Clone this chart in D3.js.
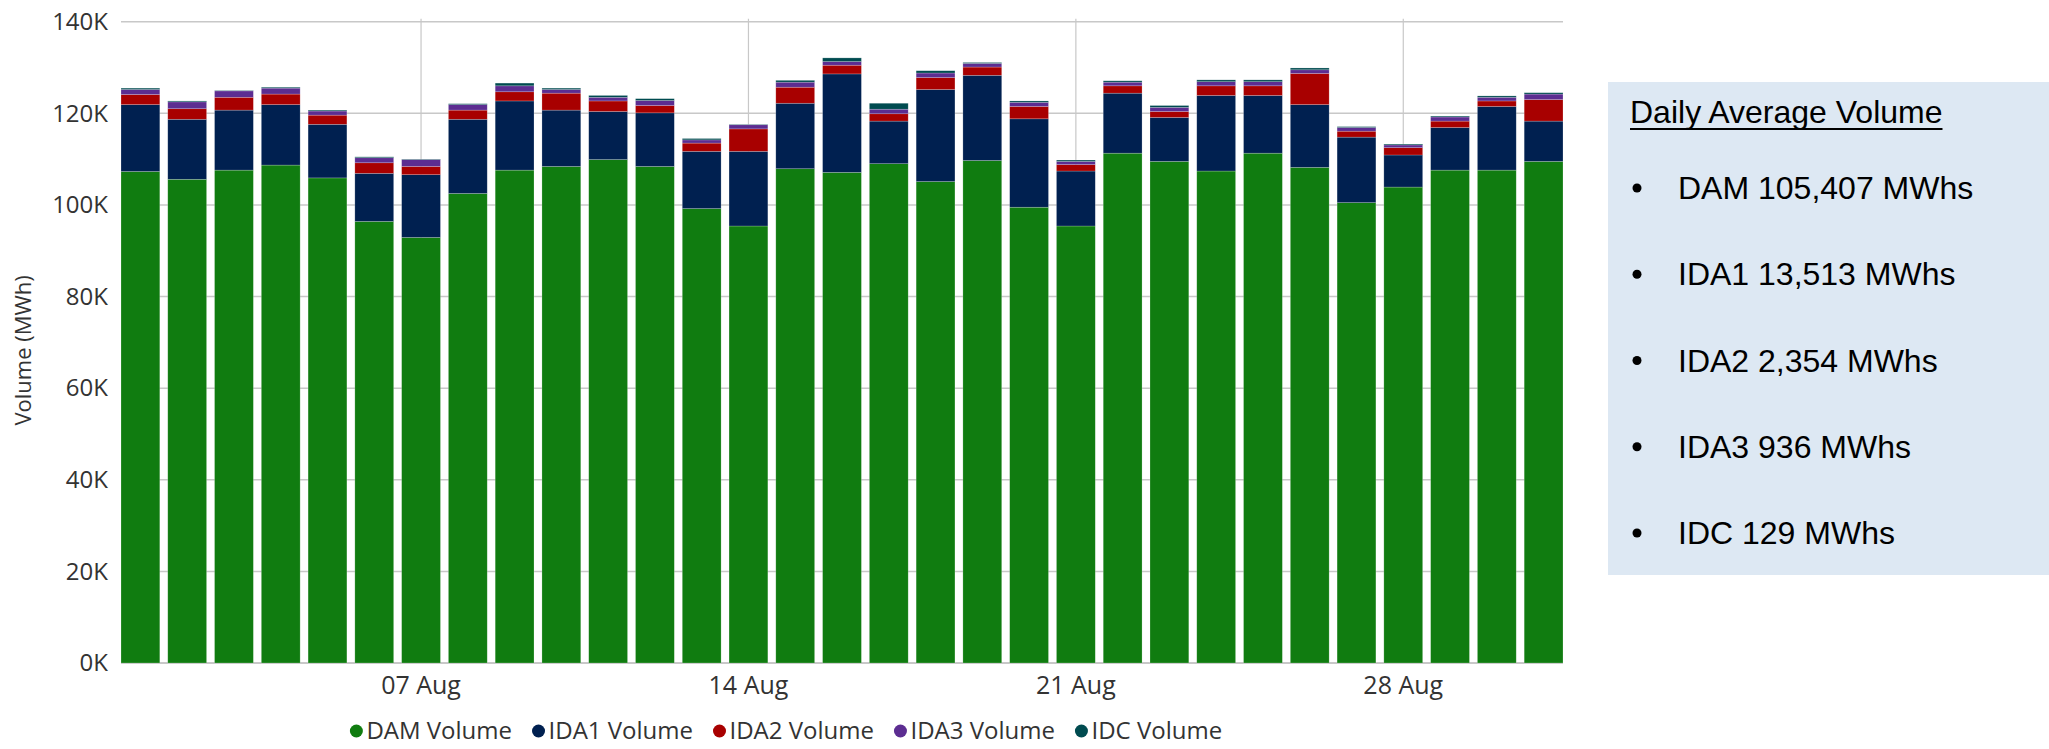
<!DOCTYPE html>
<html>
<head>
<meta charset="utf-8">
<script src="https://cdn.jsdelivr.net/npm/d3@7"></script>
<style>
  html, body { margin: 0; padding: 0; background: #fff; }
  svg { display: block; }
</style>
</head>
<body>
<svg id="chart" width="2049" height="749"></svg>
<script>
/* stacked daily volume chart */
const days = d3.range(1, 32).map(d => new Date(2023, 7, d));
const dam  = [107300,105600,107600,108700,105900, 96400, 92900,102500,107600,108400,
              109900,108400, 99200, 95400,107900,107100,109000,105100,109700, 99500,
               95400,111300,109500,107400,111300,108200,100500,103900,107600,107600,109500];
const ida1 = [ 14600, 13100, 13100, 13200, 11700, 10500, 13700, 16200, 15100, 12300,
               10500, 11700, 12500, 16300, 14300, 21500,  9300, 20100, 18600, 19300,
               12000, 13100,  9600, 16500, 12600, 13700, 14300,  7000,  9300, 13900,  8800];
const ida2 = [  2200,  2300,  2800,  2300,  2000,  2300,  1800,  2000,  2000,  3700,
                2300,  1600,  1800,  4900,  3500,  1900,  1600,  2600,  1800,  2700,
                1400,  1600,  1300,  2100,  2100,  6800,  1300,  1600,  1400,  1200,  4700];
const ida3 = [  1100,  1500,  1400,  1300,   900,  1100,  1500,  1200,  1300,   800,
                 800,  1100,   700,   900,  1100,   800,  1000,  1000,   800,   900,
                 700,   800,   900,   900,   900,   800,   800,   600,   900,   800,  1200];
const idc  = [   300,   200,   100,   200,   200,   200,   100,   200,   600,   300,
                 400,   400,   300,   100,   400,   800,  1300,   500,   200,   300,
                 300,   300,   400,   400,   400,   400,   200,   200,   200,   300,   300];

const seriesNames = ['DAM Volume', 'IDA1 Volume', 'IDA2 Volume', 'IDA3 Volume', 'IDC Volume'];
const seriesColors = ['#107c10', '#002050', '#a80000', '#5c2d91', '#004b50'];
const tickDays = [7, 14, 21, 28];
const yTicks = [0, 20000, 40000, 60000, 80000, 100000, 120000, 140000];

const summaryTitle = 'Daily Average Volume';
const summaryLines = ['DAM 105,407 MWhs', 'IDA1 13,513 MWhs', 'IDA2 2,354 MWhs', 'IDA3 936 MWhs', 'IDC 129 MWhs'];

const svg = d3.select('#chart');
const FONT = '"Segoe UI", "Open Sans", "Noto Sans", sans-serif';
const plotL = 121, plotR = 1563, plotT = 21.7, plotB = 663;

const rows = days.map((d, i) => ({
  date: d,
  'DAM Volume': dam[i], 'IDA1 Volume': ida1[i], 'IDA2 Volume': ida2[i],
  'IDA3 Volume': ida3[i], 'IDC Volume': idc[i]
}));

const x = d3.scaleBand()
  .domain(days.map(d => +d))
  .range([plotL, plotR])
  .paddingInner(0.17)
  .paddingOuter(0);

const y = d3.scaleLinear().domain([0, 140000]).range([plotB, plotT]);
const color = d3.scaleOrdinal(seriesNames, seriesColors);

// horizontal grid
svg.append('g')
  .selectAll('line')
  .data(yTicks)
  .join('line')
  .attr('x1', plotL).attr('x2', plotR)
  .attr('y1', d => y(d)).attr('y2', d => y(d))
  .attr('stroke', '#c8c8c8')
  .attr('stroke-width', d => d === 0 ? 2 : 1.5);

// vertical grid at labelled days
const tickDates = days.filter(d => tickDays.includes(d.getDate()));
svg.append('g')
  .selectAll('line')
  .data(tickDates)
  .join('line')
  .attr('x1', d => x(+d) + x.bandwidth() / 2)
  .attr('x2', d => x(+d) + x.bandwidth() / 2)
  .attr('y1', plotT - 3).attr('y2', plotB)
  .attr('stroke', '#c8c8c8')
  .attr('stroke-width', 1.2);

// bars
const stacked = d3.stack().keys(seriesNames)(rows);
svg.append('g')
  .selectAll('g')
  .data(stacked)
  .join('g')
  .attr('fill', d => color(d.key))
  .selectAll('rect')
  .data(d => d)
  .join('rect')
  .attr('x', d => x(+d.data.date))
  .attr('width', x.bandwidth())
  .attr('y', d => y(d[1]))
  .attr('height', d => y(d[0]) - y(d[1]))
  .attr('stroke', '#ffffff')
  .attr('stroke-opacity', 0.35)
  .attr('stroke-width', 0.6);

// y axis
const yAxis = svg.append('g')
  .attr('transform', `translate(${plotL},0)`)
  .call(d3.axisLeft(y).tickValues(yTicks).tickFormat(d => (d / 1000) + 'K').tickSize(0).tickPadding(13));
yAxis.select('.domain').remove();
yAxis.selectAll('text').attr('font-family', FONT).attr('font-size', 24).attr('fill', '#333');

// x axis
const xAxis = svg.append('g')
  .attr('transform', `translate(0,${plotB})`)
  .call(d3.axisBottom(x).tickValues(tickDates.map(d => +d))
    .tickFormat(d => d3.timeFormat('%d %b')(new Date(d))).tickSize(0).tickPadding(13));
xAxis.select('.domain').remove();
xAxis.selectAll('text').attr('font-family', FONT).attr('font-size', 25).attr('fill', '#333');

// y axis title
svg.append('text')
  .attr('transform', `translate(31,${(plotT + plotB) / 2 + 8}) rotate(-90)`)
  .attr('text-anchor', 'middle')
  .attr('font-family', FONT).attr('font-size', 22).attr('fill', '#333')
  .text('Volume (MWh)');

// legend
const legend = svg.append('g');
let lx = 0;
const items = legend.selectAll('g')
  .data(seriesNames)
  .join('g');
items.append('circle').attr('r', 6.5).attr('cy', 0).attr('fill', d => color(d));
items.append('text')
  .attr('x', 10).attr('dy', '0.35em')
  .attr('font-family', FONT).attr('font-size', 24).attr('fill', '#333')
  .text(d => d);
items.each(function () {
  const g = d3.select(this);
  const w = g.select('text').node().getComputedTextLength();
  g.attr('transform', `translate(${lx + 6.5},0)`);
  lx += w + 6.5 + 10 + 20;
});
legend.attr('transform', `translate(${796 - lx / 2},731)`);

// summary panel
const panel = svg.append('g');
panel.append('rect')
  .attr('x', 1608).attr('y', 82)
  .attr('width', 2049 - 1608).attr('height', 575 - 82)
  .attr('fill', '#dde8f3');
const title = panel.append('text')
  .attr('x', 1630).attr('y', 123)
  .attr('font-family', '"Liberation Sans", Arial, sans-serif')
  .attr('font-size', 32).attr('fill', '#000')
  .text(summaryTitle);
const tw = title.node().getComputedTextLength();
panel.append('line')
  .attr('x1', 1630).attr('x2', 1630 + tw)
  .attr('y1', 129).attr('y2', 129)
  .attr('stroke', '#000').attr('stroke-width', 2);

const lineY = d3.scalePoint().domain(summaryLines).range([199, 544]);
const li = panel.selectAll('g.item')
  .data(summaryLines)
  .join('g')
  .attr('class', 'item')
  .attr('transform', d => `translate(0,${lineY(d)})`);
li.append('circle').attr('cx', 1637).attr('cy', -11).attr('r', 4.5).attr('fill', '#000');
li.append('text')
  .attr('x', 1678)
  .attr('font-family', '"Liberation Sans", Arial, sans-serif')
  .attr('font-size', 32).attr('fill', '#000')
  .text(d => d);
</script>
</body>
</html>
